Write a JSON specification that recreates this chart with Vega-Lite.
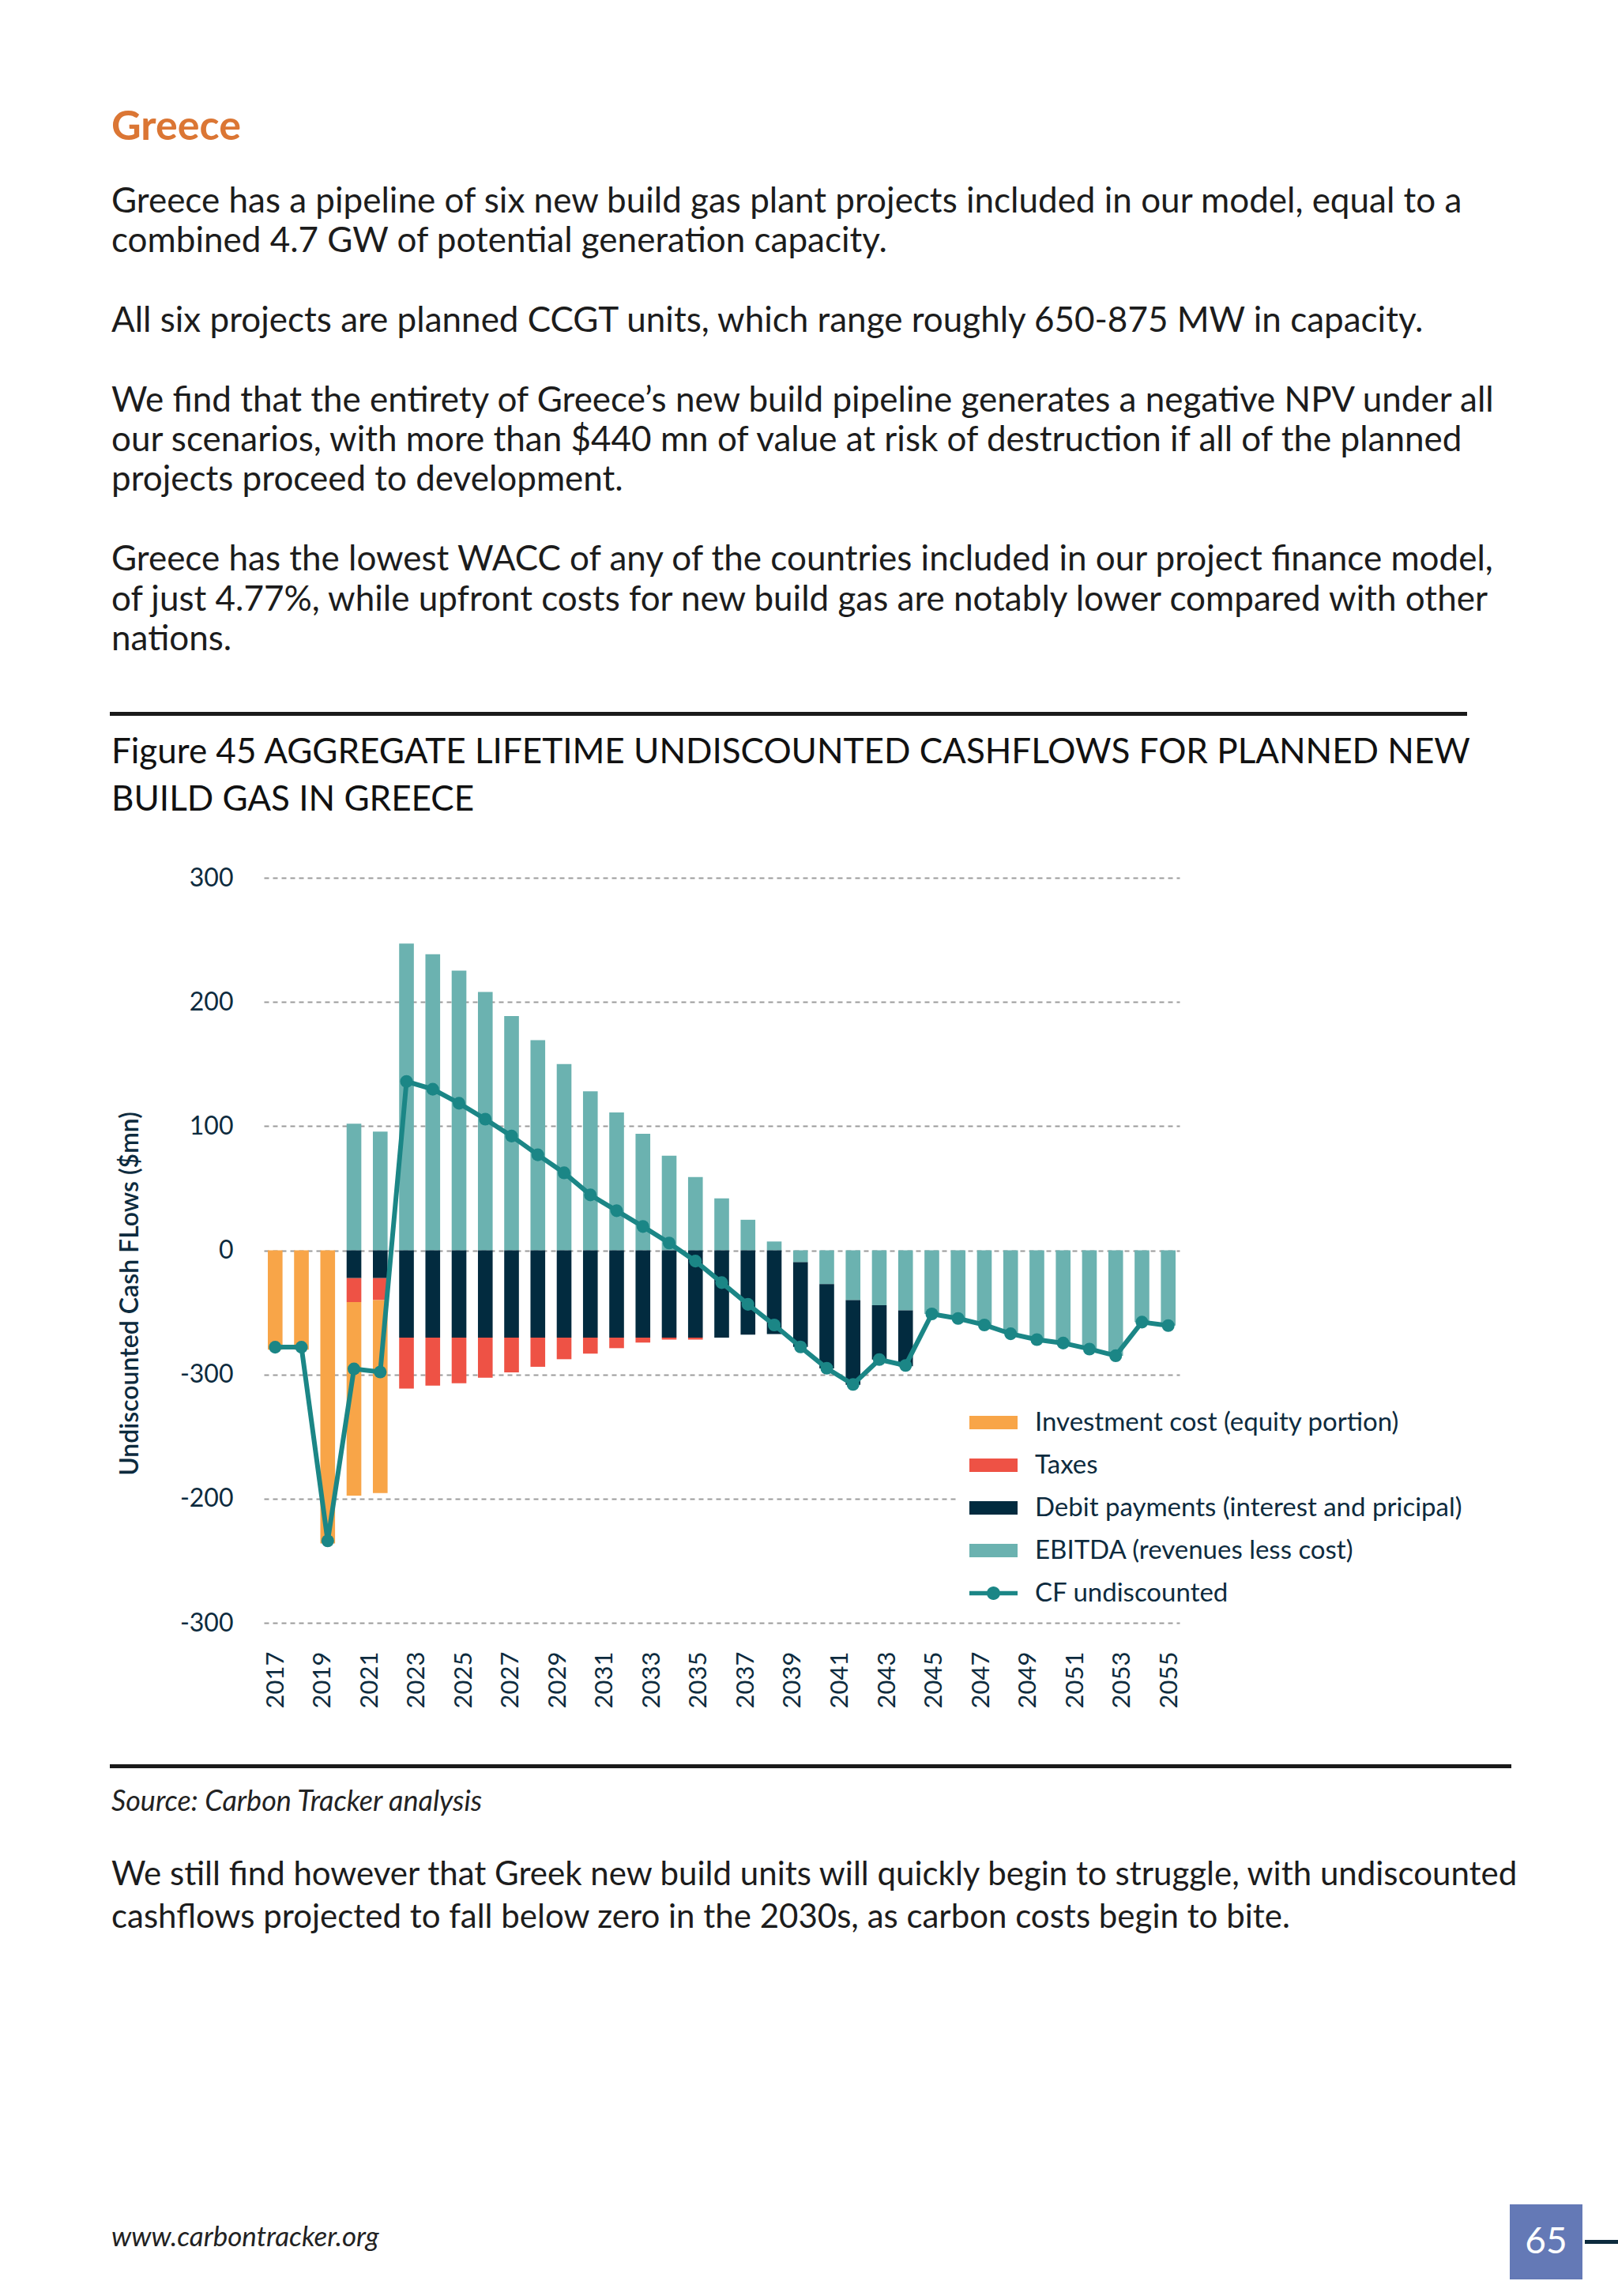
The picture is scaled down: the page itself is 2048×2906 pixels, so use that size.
{
  "$schema": "https://vega.github.io/schema/vega-lite/v6.json",
  "background": "white",
  "padding": {"left": 139, "top": 132, "right": 0, "bottom": 0},
  "datasets": {
    "components": [
      {"year": 2017, "component": "Investment cost (equity portion)", "value": -80, "rank": 4},
      {"year": 2018, "component": "Investment cost (equity portion)", "value": -80, "rank": 4},
      {"year": 2019, "component": "Investment cost (equity portion)", "value": -236, "rank": 4},
      {"year": 2020, "component": "EBITDA (revenues less cost)", "value": 102, "rank": 1},
      {"year": 2020, "component": "Debit payments (interest and pricipal)", "value": -22.4, "rank": 2},
      {"year": 2020, "component": "Taxes", "value": -19.3, "rank": 3},
      {"year": 2020, "component": "Investment cost (equity portion)", "value": -155.9, "rank": 4},
      {"year": 2021, "component": "EBITDA (revenues less cost)", "value": 95.6, "rank": 1},
      {"year": 2021, "component": "Debit payments (interest and pricipal)", "value": -22.4, "rank": 2},
      {"year": 2021, "component": "Taxes", "value": -17.7, "rank": 3},
      {"year": 2021, "component": "Investment cost (equity portion)", "value": -155.4, "rank": 4},
      {"year": 2022, "component": "EBITDA (revenues less cost)", "value": 247, "rank": 1},
      {"year": 2022, "component": "Debit payments (interest and pricipal)", "value": -70.3, "rank": 2},
      {"year": 2022, "component": "Taxes", "value": -41, "rank": 3},
      {"year": 2023, "component": "EBITDA (revenues less cost)", "value": 238.5, "rank": 1},
      {"year": 2023, "component": "Debit payments (interest and pricipal)", "value": -70.3, "rank": 2},
      {"year": 2023, "component": "Taxes", "value": -38.7, "rank": 3},
      {"year": 2024, "component": "EBITDA (revenues less cost)", "value": 225.3, "rank": 1},
      {"year": 2024, "component": "Debit payments (interest and pricipal)", "value": -70.3, "rank": 2},
      {"year": 2024, "component": "Taxes", "value": -36.8, "rank": 3},
      {"year": 2025, "component": "EBITDA (revenues less cost)", "value": 208, "rank": 1},
      {"year": 2025, "component": "Debit payments (interest and pricipal)", "value": -70.3, "rank": 2},
      {"year": 2025, "component": "Taxes", "value": -32.3, "rank": 3},
      {"year": 2026, "component": "EBITDA (revenues less cost)", "value": 188.7, "rank": 1},
      {"year": 2026, "component": "Debit payments (interest and pricipal)", "value": -70.3, "rank": 2},
      {"year": 2026, "component": "Taxes", "value": -28, "rank": 3},
      {"year": 2027, "component": "EBITDA (revenues less cost)", "value": 169.3, "rank": 1},
      {"year": 2027, "component": "Debit payments (interest and pricipal)", "value": -70.3, "rank": 2},
      {"year": 2027, "component": "Taxes", "value": -23.5, "rank": 3},
      {"year": 2028, "component": "EBITDA (revenues less cost)", "value": 150, "rank": 1},
      {"year": 2028, "component": "Debit payments (interest and pricipal)", "value": -70.3, "rank": 2},
      {"year": 2028, "component": "Taxes", "value": -17.4, "rank": 3},
      {"year": 2029, "component": "EBITDA (revenues less cost)", "value": 128.1, "rank": 1},
      {"year": 2029, "component": "Debit payments (interest and pricipal)", "value": -70.3, "rank": 2},
      {"year": 2029, "component": "Taxes", "value": -12.9, "rank": 3},
      {"year": 2030, "component": "EBITDA (revenues less cost)", "value": 111, "rank": 1},
      {"year": 2030, "component": "Debit payments (interest and pricipal)", "value": -70.3, "rank": 2},
      {"year": 2030, "component": "Taxes", "value": -8.5, "rank": 3},
      {"year": 2031, "component": "EBITDA (revenues less cost)", "value": 93.8, "rank": 1},
      {"year": 2031, "component": "Debit payments (interest and pricipal)", "value": -70.3, "rank": 2},
      {"year": 2031, "component": "Taxes", "value": -4, "rank": 3},
      {"year": 2032, "component": "EBITDA (revenues less cost)", "value": 76.2, "rank": 1},
      {"year": 2032, "component": "Debit payments (interest and pricipal)", "value": -70.3, "rank": 2},
      {"year": 2032, "component": "Taxes", "value": -1.6, "rank": 3},
      {"year": 2033, "component": "EBITDA (revenues less cost)", "value": 59, "rank": 1},
      {"year": 2033, "component": "Debit payments (interest and pricipal)", "value": -70.3, "rank": 2},
      {"year": 2033, "component": "Taxes", "value": -1.6, "rank": 3},
      {"year": 2034, "component": "EBITDA (revenues less cost)", "value": 41.9, "rank": 1},
      {"year": 2034, "component": "Debit payments (interest and pricipal)", "value": -70.3, "rank": 2},
      {"year": 2035, "component": "EBITDA (revenues less cost)", "value": 24.6, "rank": 1},
      {"year": 2035, "component": "Debit payments (interest and pricipal)", "value": -68, "rank": 2},
      {"year": 2036, "component": "EBITDA (revenues less cost)", "value": 7.1, "rank": 1},
      {"year": 2036, "component": "Debit payments (interest and pricipal)", "value": -67.5, "rank": 2},
      {"year": 2037, "component": "EBITDA (revenues less cost)", "value": -9.6, "rank": 1},
      {"year": 2037, "component": "Debit payments (interest and pricipal)", "value": -68.2, "rank": 2},
      {"year": 2038, "component": "EBITDA (revenues less cost)", "value": -27.2, "rank": 1},
      {"year": 2038, "component": "Debit payments (interest and pricipal)", "value": -68, "rank": 2},
      {"year": 2039, "component": "EBITDA (revenues less cost)", "value": -40.1, "rank": 1},
      {"year": 2039, "component": "Debit payments (interest and pricipal)", "value": -68.2, "rank": 2},
      {"year": 2040, "component": "EBITDA (revenues less cost)", "value": -44.3, "rank": 1},
      {"year": 2040, "component": "Debit payments (interest and pricipal)", "value": -43.7, "rank": 2},
      {"year": 2041, "component": "EBITDA (revenues less cost)", "value": -48.3, "rank": 1},
      {"year": 2041, "component": "Debit payments (interest and pricipal)", "value": -45, "rank": 2},
      {"year": 2042, "component": "EBITDA (revenues less cost)", "value": -51.2, "rank": 1},
      {"year": 2043, "component": "EBITDA (revenues less cost)", "value": -54.9, "rank": 1},
      {"year": 2044, "component": "EBITDA (revenues less cost)", "value": -60.1, "rank": 1},
      {"year": 2045, "component": "EBITDA (revenues less cost)", "value": -67, "rank": 1},
      {"year": 2046, "component": "EBITDA (revenues less cost)", "value": -71.9, "rank": 1},
      {"year": 2047, "component": "EBITDA (revenues less cost)", "value": -74.7, "rank": 1},
      {"year": 2048, "component": "EBITDA (revenues less cost)", "value": -79.5, "rank": 1},
      {"year": 2049, "component": "EBITDA (revenues less cost)", "value": -84.9, "rank": 1},
      {"year": 2050, "component": "EBITDA (revenues less cost)", "value": -57.8, "rank": 1},
      {"year": 2051, "component": "EBITDA (revenues less cost)", "value": -60.6, "rank": 1}
    ],
    "cf": [
      {"year": 2017, "cf": -78}, {"year": 2018, "cf": -78}, {"year": 2019, "cf": -234},
      {"year": 2020, "cf": -95.5}, {"year": 2021, "cf": -98}, {"year": 2022, "cf": 136},
      {"year": 2023, "cf": 129.7}, {"year": 2024, "cf": 118.4}, {"year": 2025, "cf": 105.6},
      {"year": 2026, "cf": 92}, {"year": 2027, "cf": 76.9}, {"year": 2028, "cf": 62.4},
      {"year": 2029, "cf": 44.6}, {"year": 2030, "cf": 31.9}, {"year": 2031, "cf": 19.2},
      {"year": 2032, "cf": 5.9}, {"year": 2033, "cf": -8.7}, {"year": 2034, "cf": -26},
      {"year": 2035, "cf": -43.5}, {"year": 2036, "cf": -60.1}, {"year": 2037, "cf": -77.8},
      {"year": 2038, "cf": -95}, {"year": 2039, "cf": -108}, {"year": 2040, "cf": -88},
      {"year": 2041, "cf": -92.7}, {"year": 2042, "cf": -51.2}, {"year": 2043, "cf": -54.9},
      {"year": 2044, "cf": -60.1}, {"year": 2045, "cf": -67.2}, {"year": 2046, "cf": -71.9},
      {"year": 2047, "cf": -74.7}, {"year": 2048, "cf": -79.5}, {"year": 2049, "cf": -84.9},
      {"year": 2050, "cf": -57.8}, {"year": 2051, "cf": -60.6}
    ],
    "page": [{"number": "65"}],
    "none": []
  },
  "columns": 1,
  "spacing": 25,
  "concat": [
    {
      "width": 1714,
      "height": 1,
      "view": {"stroke": "#1a1a1a", "strokeWidth": 4, "fill": null},
      "data": {"name": "none"},
      "mark": "text",
      "title": {
        "text": "Greece",
        "anchor": "start",
        "font": "Lato",
        "fontSize": 52,
        "fontWeight": "bold",
        "color": "#DB7634",
        "offset": 70,
        "subtitle": [
          "Greece has a pipeline of six new build gas plant projects included in our model, equal to a",
          "combined 4.7 GW of potential generation capacity.",
          "\u200b",
          "All six projects are planned CCGT units, which range roughly 650-875 MW in capacity.",
          "\u200b",
          "We find that the entirety of Greece’s new build pipeline generates a negative NPV under all",
          "our scenarios, with more than $440 mn of value at risk of destruction if all of the planned",
          "projects proceed to development.",
          "\u200b",
          "Greece has the lowest WACC of any of the countries included in our project finance model,",
          "of just 4.77%, while upfront costs for new build gas are notably lower compared with other",
          "nations."
        ],
        "subtitleFont": "Lato",
        "subtitleFontSize": 44,
        "subtitleColor": "#1c1c1c",
        "subtitleLineHeight": 50.4,
        "subtitlePadding": 46
      }
    },
    {
      "columns": 1,
      "spacing": 71,
      "concat": [
        {
          "title": {
            "text": ["Figure 45 AGGREGATE LIFETIME UNDISCOUNTED CASHFLOWS FOR PLANNED NEW", "BUILD GAS IN GREECE"],
            "anchor": "start",
            "font": "Lato",
            "fontSize": 44,
            "lineHeight": 60,
            "fontWeight": "normal",
            "color": "#111111",
            "offset": 60
          },
          "spacing": 0,
          "hconcat": [
            {
              "width": 192,
              "height": 943,
              "data": {"name": "cf"},
              "mark": {"type": "point", "opacity": 0},
              "encoding": {
                "y": {
                  "field": "cf",
                  "type": "quantitative",
                  "scale": {"domain": [-300, 300], "nice": false},
                  "axis": {
                    "offset": -192,
                    "values": [-300, -200, -100, 0, 100, 200, 300],
                    "labelExpr": "datum.value === -100 ? '-300' : '' + datum.value",
                    "grid": false,
                    "domain": false,
                    "ticks": false,
                    "labelPadding": 38,
                    "labelFontSize": 32,
                    "labelFont": "Lato",
                    "labelColor": "#0d2b3e",
                    "title": "Undiscounted Cash FLows ($mn)",
                    "titleFont": "Lato",
                    "titleFontSize": 32,
                    "titleFontWeight": 600,
                    "titleColor": "#0d2b3e",
                    "titlePadding": 46,
                    "titleY": 526
                  }
                }
              }
            },
            {
              "width": 1159,
              "height": 943,
              "layer": [
                {
                  "layer": [
                    {
                      "data": {"name": "components"},
                      "mark": {"type": "bar"},
                      "encoding": {
                        "x": {"field": "year", "type": "ordinal", "scale": {"paddingInner": 0.44, "paddingOuter": 0.15}, "axis": null},
                        "y": {
                          "field": "value",
                          "type": "quantitative",
                          "stack": "zero",
                          "scale": {"domain": [-300, 300], "nice": false},
                          "axis": {
                            "values": [-300, -200, -100, 0, 100, 200, 300],
                            "labels": false,
                            "grid": true,
                            "gridDash": [6, 5],
                            "gridColor": "#9b9b9b",
                            "gridWidth": 2,
                            "domain": false,
                            "ticks": false,
                            "title": null
                          }
                        },
                        "color": {
                          "field": "component",
                          "type": "nominal",
                          "scale": {
                            "domain": ["Investment cost (equity portion)", "Taxes", "Debit payments (interest and pricipal)", "EBITDA (revenues less cost)", "CF undiscounted"],
                            "range": ["#F8A548", "#EE5245", "#022B3F", "#6BB2B0", "#1B8686"]
                          },
                          "legend": {
                            "orient": "none",
                            "legendX": 1070,
                            "legendY": 851,
                            "title": null,
                            "fillColor": "white",
                            "padding": 16,
                            "labelFont": "Lato",
                            "labelFontSize": 33,
                            "labelColor": "#0d2b3e",
                            "labelLimit": 900,
                            "labelOffset": 22,
                            "rowPadding": 6,
                            "symbolSize": 3721,
                            "symbolStrokeWidth": 0,
                            "symbolType": "M-1,-0.28H1V0.28H-1Z",
                            "encode": {
                              "symbols": {
                                "update": {
                                  "shape": {"signal": "datum.label === 'CF undiscounted' ? 'M-1,-0.09H1V0.09H-1Z M-0.28,0A0.28,0.28 0 1,1 0.28,0A0.28,0.28 0 1,1 -0.28,0Z' : 'M-1,-0.28H1V0.28H-1Z'"}
                                }
                              }
                            }
                          }
                        },
                        "order": {"field": "rank", "type": "quantitative"}
                      }
                    },
                    {
                      "mark": {"type": "rule", "color": "#cccccc", "strokeWidth": 4},
                      "encoding": {"y": {"datum": 0}}
                    },
                    {
                      "data": {"name": "cf"},
                      "mark": {"type": "line", "color": "#1B8686", "strokeWidth": 6, "point": {"filled": true, "size": 260, "color": "#1B8686"}},
                      "encoding": {
                        "x": {"field": "year", "type": "ordinal"},
                        "y": {"field": "cf", "type": "quantitative"}
                      }
                    }
                  ]
                },
                {
                  "data": {"name": "cf"},
                  "mark": {"type": "point", "opacity": 0},
                  "encoding": {
                    "x": {
                      "field": "year",
                      "type": "quantitative",
                      "scale": {"domain": [2016.49, 2055.43], "nice": false, "zero": false},
                      "axis": {
                        "orient": "bottom",
                        "values": [2017, 2019, 2021, 2023, 2025, 2027, 2029, 2031, 2033, 2035, 2037, 2039, 2041, 2043, 2045, 2047, 2049, 2051, 2053, 2055],
                        "format": "d",
                        "labelAngle": 270,
                        "grid": false,
                        "domain": false,
                        "ticks": false,
                        "title": null,
                        "labelPadding": 36,
                        "labelFont": "Lato",
                        "labelFontSize": 31,
                        "labelColor": "#0d2b3e"
                      }
                    }
                  }
                }
              ],
              "resolve": {"scale": {"x": "independent"}, "axis": {"x": "independent"}}
            }
          ]
        },
        {
          "columns": 1,
          "spacing": 340,
          "concat": [
            {
              "width": 1770,
              "height": 1,
              "view": {"stroke": "#1a1a1a", "strokeWidth": 4, "fill": null},
              "data": {"name": "none"},
              "mark": "text",
              "title": {
                "text": "Source: Carbon Tracker analysis",
                "orient": "bottom",
                "anchor": "start",
                "font": "Lato",
                "fontSize": 36,
                "fontStyle": "italic",
                "fontWeight": "normal",
                "color": "#222222",
                "offset": 28,
                "subtitle": [
                  "We still find however that Greek new build units will quickly begin to struggle, with undiscounted",
                  "cashflows projected to fall below zero in the 2030s, as carbon costs begin to bite."
                ],
                "subtitleFont": "Lato",
                "subtitleFontSize": 42,
                "subtitleFontStyle": "normal",
                "subtitleColor": "#1c1c1c",
                "subtitleLineHeight": 54,
                "subtitlePadding": 53
              }
            },
            {
              "spacing": 20,
              "hconcat": [
                {
                  "width": 1750,
                  "height": 95,
                  "data": {"name": "none"},
                  "mark": "text",
                  "title": {
                    "text": "www.carbontracker.org",
                    "anchor": "start",
                    "orient": "top",
                    "offset": -60,
                    "font": "Lato",
                    "fontSize": 35,
                    "fontStyle": "italic",
                    "fontWeight": "normal",
                    "color": "#222222"
                  }
                },
                {
                  "spacing": 0,
                  "hconcat": [
                    {
                      "width": 92,
                      "height": 95,
                      "view": {"fill": "#6479B6", "stroke": null},
                      "data": {"name": "page"},
                      "mark": {"type": "text", "color": "white", "fontSize": 46, "font": "Lato"},
                      "encoding": {"text": {"field": "number"}}
                    },
                    {
                      "width": 47,
                      "height": 95,
                      "data": {"name": "page"},
                      "mark": {"type": "rule", "color": "#0d2b3e", "strokeWidth": 5},
                      "encoding": {"y": {"datum": 0, "type": "quantitative", "scale": {"domain": [-1, 1]}, "axis": null}}
                    }
                  ]
                }
              ]
            }
          ]
        }
      ]
    }
  ],
  "config": {
    "view": {"stroke": null},
    "font": "Lato"
  }
}
